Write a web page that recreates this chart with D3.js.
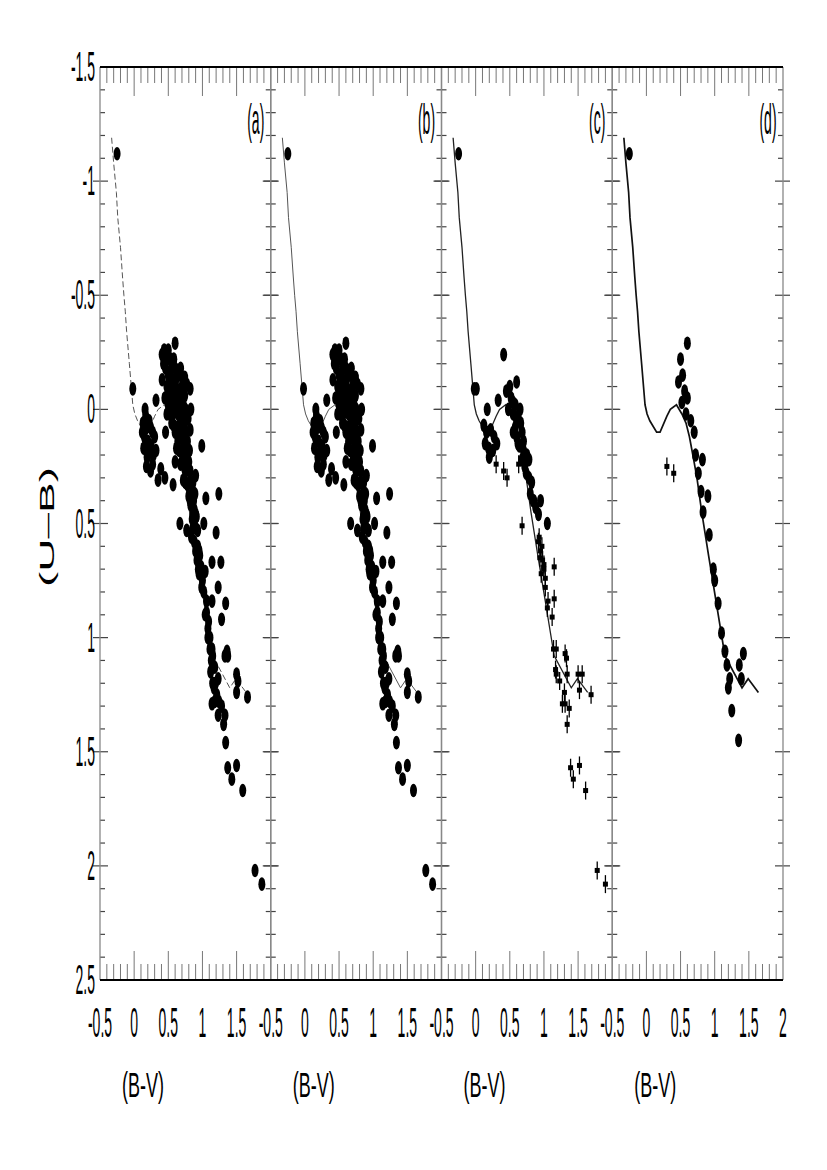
<!DOCTYPE html>
<html><head><meta charset="utf-8">
<script src="https://cdn.jsdelivr.net/npm/d3@7/dist/d3.min.js"></script>
<style>body{margin:0;background:#fff}svg{display:block}</style>
</head><body>
<svg id="c" width="827" height="1170"></svg>
<script>
// ---- data ----
const panelLabels = ["(a)", "(b)", "(c)", "(d)"];
const xTickValues = [-0.5, 0, 0.5, 1, 1.5, 2];
const yTickValues = [-1.5, -1, -0.5, 0, 0.5, 1, 1.5, 2, 2.5];
// intrinsic colour sequence (B-V, U-B)
const seqBV = [-0.33, -0.30, -0.26, -0.24, -0.20, -0.17, -0.15, -0.13, -0.11, -0.07, -0.02, 0.01, 0.05, 0.15, 0.20, 0.30, 0.35, 0.44, 0.52, 0.58, 0.63, 0.68, 0.74, 0.81, 0.91, 1.15, 1.40, 1.49, 1.64];
const seqUB = [-1.19, -1.08, -0.95, -0.84, -0.71, -0.58, -0.50, -0.43, -0.34, -0.20, -0.02, 0.02, 0.05, 0.10, 0.10, 0.03, 0.00, -0.02, 0.02, 0.06, 0.12, 0.20, 0.30, 0.45, 0.64, 1.08, 1.22, 1.18, 1.24];
// stars, panels (a) and (b)
const starsBV = [-0.25, -0.02, 0.16, 0.32, 0.13, 0.18, 0.22, 0.27, 0.15, 0.20, 0.25, 0.30, 0.14, 0.19, 0.27, 0.22, 0.32, 0.39, 0.35, 0.45, 0.57, 0.46, 0.60,
  0.60, 0.41, 0.43, 0.48, 0.55, 0.64, 0.41, 0.50, 0.58, 0.70, 0.77, 0.82, 0.65, 0.45, 0.52, 0.56, 0.62, 0.70, 0.48, 0.55, 0.60, 0.67, 0.75, 0.83, 0.79, 0.58, 0.63, 0.70, 0.82, 0.66, 0.72, 0.62, 0.70, 0.76, 0.99, 0.68, 0.74, 0.80, 0.72, 0.78, 0.90, 0.80, 0.86, 0.89, 0.83, 0.88, 1.05, 1.24, 0.85, 0.91, 0.67, 0.77, 0.93, 1.02, 1.20, 0.84, 0.88, 0.93, 0.96, 0.92, 0.98, 0.95, 1.00, 1.14, 1.27, 1.04, 1.23, 0.99, 1.06, 1.14, 1.34, 1.06, 1.28, 1.09, 1.08, 1.11, 1.11, 1.15, 1.33, 1.37, 1.14, 1.36, 1.18, 1.12, 1.23, 1.50, 1.52, 1.50, 1.66, 1.14, 1.21, 1.28, 1.17, 1.23, 1.31, 1.33, 1.34, 1.37, 1.50, 1.43, 1.59, 1.77, 1.87,
  0.44, 0.50, 0.53, 0.58, 0.46, 0.60, 0.68, 0.54, 0.62, 0.74, 0.48, 0.55, 0.61, 0.70, 0.58, 0.66, 0.74, 0.50, 0.64, 0.72, 0.52, 0.64, 0.71, 0.55, 0.67, 0.74, 0.60, 0.70, 0.76, 0.64, 0.78, 0.66, 0.73, 0.81, 0.71, 0.77, 0.76, 0.82, 0.75, 0.81, 0.86, 0.82, 0.87, 0.86, 0.90, 0.86, 0.90, 0.90, 0.95, 0.94, 0.97, 1.02, 1.04, 1.08, 1.13, 1.15, 1.19, 1.18, 1.24,
  0.17, 0.24, 0.12, 0.28, 0.24, 0.18];
const starsUB = [-1.12, -0.09, 0.00, -0.04, 0.06, 0.08, 0.05, 0.10, 0.12, 0.14, 0.16, 0.12, 0.17, 0.21, 0.24, 0.19, 0.18, 0.26, 0.31, 0.30, 0.33, 0.10, 0.23,
  -0.29, -0.24, -0.20, -0.22, -0.19, -0.17, -0.13, -0.15, -0.12, -0.14, -0.11, -0.09, -0.08, -0.05, -0.06, -0.02, -0.04, -0.03, 0.02, 0.03, 0.01, 0.02, 0.00, 0.00, 0.04, 0.07, 0.08, 0.06, 0.09, 0.12, 0.14, 0.17, 0.19, 0.18, 0.16, 0.24, 0.26, 0.23, 0.31, 0.33, 0.29, 0.38, 0.36, 0.37, 0.42, 0.44, 0.39, 0.37, 0.48, 0.47, 0.50, 0.53, 0.53, 0.50, 0.54, 0.56, 0.58, 0.60, 0.64, 0.66, 0.69, 0.72, 0.75, 0.67, 0.67, 0.71, 0.78, 0.78, 0.84, 0.84, 0.85, 0.89, 0.92, 0.93, 0.96, 1.00, 1.05, 1.08, 1.08, 1.08, 1.05, 1.06, 1.13, 1.15, 1.18, 1.16, 1.19, 1.24, 1.26, 1.29, 1.25, 1.30, 1.22, 1.34, 1.38, 1.34, 1.46, 1.57, 1.56, 1.62, 1.67, 2.02, 2.08,
  -0.26, -0.26, -0.22, -0.22, -0.18, -0.18, -0.18, -0.14, -0.14, -0.14, -0.10, -0.10, -0.10, -0.10, -0.06, -0.06, -0.06, -0.02, -0.02, -0.02, 0.02, 0.02, 0.02, 0.06, 0.06, 0.06, 0.10, 0.10, 0.10, 0.14, 0.14, 0.18, 0.18, 0.18, 0.22, 0.22, 0.27, 0.27, 0.32, 0.32, 0.32, 0.40, 0.40, 0.46, 0.46, 0.52, 0.52, 0.62, 0.62, 0.70, 0.70, 0.80, 0.90, 1.00, 1.10, 1.20, 1.20, 1.28, 1.28,
  0.03, 0.08, 0.10, 0.20, 0.27, 0.25];
// panel (c)
const cDotsBV = [-0.25, -0.02, 0.01, 0.17, 0.33, 0.12, 0.16, 0.22, 0.27, 0.14, 0.19, 0.25, 0.31, 0.20, 0.41, 0.60, 0.45, 0.52, 0.48, 0.55, 0.58, 0.62, 0.66, 0.55, 0.60, 0.64, 0.70, 0.68, 0.72, 0.75, 0.78, 0.80, 0.85, 0.88, 0.92, 0.95, 1.05,
  0.50, 0.55, 0.60, 0.65, 0.58, 0.62, 0.68, 0.70, 0.74, 0.78, 0.82, 0.84];
const cDotsUB = [-1.12, -0.09, -0.09, 0.00, -0.04, 0.07, 0.10, 0.09, 0.12, 0.15, 0.17, 0.18, 0.15, 0.21, -0.24, -0.12, -0.08, -0.05, 0.00, 0.02, -0.02, 0.03, 0.06, 0.10, 0.12, 0.16, 0.14, 0.22, 0.25, 0.20, 0.30, 0.37, 0.40, 0.43, 0.46, 0.40, 0.50,
  -0.10, -0.03, 0.05, 0.00, 0.08, 0.15, 0.10, 0.18, 0.28, 0.22, 0.32, 0.40];
const cCrossBV = [0.30, 0.41, 0.46, 0.63, 0.68, 0.92, 0.95, 0.98, 1.00, 1.02, 1.15, 1.06, 1.15, 1.05, 1.12, 1.14, 1.18, 1.31, 1.33, 1.17, 1.18, 1.23, 1.34, 1.50, 1.56, 1.52, 1.69, 1.27, 1.31, 1.30, 1.37, 1.34, 1.39, 1.52, 1.43, 1.61, 1.78, 1.90,
  0.93, 0.97, 0.94, 1.00, 0.96, 1.02];
const cCrossUB = [0.24, 0.27, 0.30, 0.24, 0.51, 0.58, 0.62, 0.66, 0.70, 0.74, 0.69, 0.84, 0.83, 0.87, 0.91, 1.05, 1.05, 1.07, 1.09, 1.14, 1.16, 1.19, 1.16, 1.16, 1.16, 1.23, 1.25, 1.29, 1.29, 1.24, 1.31, 1.38, 1.57, 1.56, 1.62, 1.67, 2.02, 2.08,
  0.56, 0.60, 0.65, 0.68, 0.72, 0.78];
// panel (d)
const dDotsBV = [-0.25, 0.60, 0.50, 0.53, 0.47, 0.56, 0.52, 0.60, 0.58, 0.65, 0.70, 0.72, 0.76, 0.82, 0.80, 0.83, 0.90, 0.92, 0.98, 1.00, 1.05, 1.10, 1.15, 1.18, 1.22, 1.20, 1.25, 1.36, 1.39, 1.42, 1.35];
const dDotsUB = [-1.12, -0.29, -0.22, -0.15, -0.12, -0.08, -0.03, -0.05, 0.02, 0.05, 0.10, 0.20, 0.28, 0.22, 0.36, 0.45, 0.38, 0.55, 0.70, 0.75, 0.85, 0.98, 1.06, 1.12, 1.18, 1.22, 1.32, 1.12, 1.18, 1.07, 1.45];
const dCrossBV = [0.30, 0.40];
const dCrossUB = [0.25, 0.28];

// ---- layout ----
const svg = d3.select("#c");
const topY = 67, bottomY = 980, left0 = 100, pw = 170.75;
const y = d3.scaleLinear().domain([-1.5, 2.5]).range([topY, bottomY]);
const font = "Liberation Sans, Arial, sans-serif";
const seq = seqBV.map((v, i) => [v, seqUB[i]]);
const zip = (a, b) => a.map((v, i) => [v, b[i]]);
const isMajor = d => Math.abs(d * 2 - Math.round(d * 2)) < 0.01;

const panelData = [
  {dots: zip(starsBV, starsUB), cross: [], line: "dash"},
  {dots: zip(starsBV, starsUB), cross: [], line: "thin"},
  {dots: zip(cDotsBV, cDotsUB), cross: zip(cCrossBV, cCrossUB), line: "mid"},
  {dots: zip(dDotsBV, dDotsUB), cross: zip(dCrossBV, dCrossUB), line: "thick"}
];

function stretchText(g, x, yy, txt, size, sy, anchor) {
  g.append("text").attr("transform", `translate(${x},${yy}) scale(1,${sy})`)
    .attr("text-anchor", anchor).attr("dominant-baseline", "central")
    .attr("font-family", font).attr("font-size", size).attr("fill", "#000").text(txt);
}

panelData.forEach((p, i) => {
  const L = left0 + i * pw, R = L + pw;
  const x = d3.scaleLinear().domain([-0.5, 2]).range([L, R]);
  const g = svg.append("g");
  const line = d3.line().x(d => x(d[0])).y(d => y(d[1]));
  g.append("path").attr("d", line(seq)).attr("fill", "none")
    .attr("stroke", p.line === "thick" ? "#111" : (p.line === "mid" ? "#222" : "#555"))
    .attr("stroke-width", p.line === "thick" ? 1.7 : (p.line === "mid" ? 1.3 : 1))
    .attr("stroke-dasharray", p.line === "dash" ? "6,3" : null);
  g.selectAll("ellipse").data(p.dots).join("ellipse")
    .attr("cx", d => x(d[0])).attr("cy", d => y(d[1]))
    .attr("rx", 3.5).attr("ry", 6.8).attr("fill", "#000");
  const cg = g.selectAll("g.cr").data(p.cross).join("g").attr("class", "cr")
    .attr("transform", d => `translate(${x(d[0])},${y(d[1])})`);
  cg.append("rect").attr("x", -2.5).attr("y", -2.5).attr("width", 5).attr("height", 5).attr("fill", "#000");
  cg.append("line").attr("y1", -9).attr("y2", 9).attr("stroke", "#000").attr("stroke-width", 1.3);
  const minor = d3.range(1, 25).map(k => Math.round((-0.5 + k * 0.1) * 10) / 10);
  g.selectAll("line.tt").data(minor).join("line").attr("class", "tt")
    .attr("x1", d => x(d)).attr("x2", d => x(d)).attr("y1", topY)
    .attr("y2", d => topY + (isMajor(d) ? 29 : 16))
    .attr("stroke", "#777").attr("stroke-width", 1);
  g.selectAll("line.bt").data(minor).join("line").attr("class", "bt")
    .attr("x1", d => x(d)).attr("x2", d => x(d)).attr("y1", bottomY)
    .attr("y2", d => bottomY - (isMajor(d) ? 29 : 16))
    .attr("stroke", "#777").attr("stroke-width", 1);
  const yMinor = d3.range(-14, 25).map(k => k / 10);
  [L, R].forEach((X, side) => {
    const dir = side === 0 ? 1 : -1;
    g.selectAll(null).data(yMinor).join("line")
      .attr("x1", d => X - (isMajor(d) ? 7 * dir : 0))
      .attr("x2", d => X + dir * (isMajor(d) ? 8 : 5))
      .attr("y1", d => y(d)).attr("y2", d => y(d))
      .attr("stroke", "#444").attr("stroke-width", 1.2);
    g.append("line").attr("x1", X).attr("x2", X).attr("y1", topY).attr("y2", bottomY)
      .attr("stroke", "#888").attr("stroke-width", 1.3);
  });
  stretchText(g, R - 15, 119, panelLabels[i], 14, 3.1, "middle");
  const xt = i === 3 ? xTickValues : xTickValues.slice(0, 5);
  xt.forEach(v => stretchText(g, x(v), 1023, String(v), 14, 3.0, "middle"));
  stretchText(g, x(0.13), 1085, "(B-V)", 18, 1.9, "middle");
});
svg.append("line").attr("x1", left0).attr("x2", left0 + 4 * pw).attr("y1", topY).attr("y2", topY)
  .attr("stroke", "#000").attr("stroke-width", 2);
svg.append("line").attr("x1", left0).attr("x2", left0 + 4 * pw).attr("y1", bottomY).attr("y2", bottomY)
  .attr("stroke", "#000").attr("stroke-width", 2);
yTickValues.forEach(v => stretchText(svg, 95, y(v), String(v), 14, 3.0, "end"));
svg.append("text").attr("transform", "translate(47,527) rotate(-90) scale(2.3,1)")
  .attr("text-anchor", "middle").attr("dominant-baseline", "central")
  .attr("font-family", font).attr("font-size", 20).text("(U\u2013B)");
</script>
</body></html>
